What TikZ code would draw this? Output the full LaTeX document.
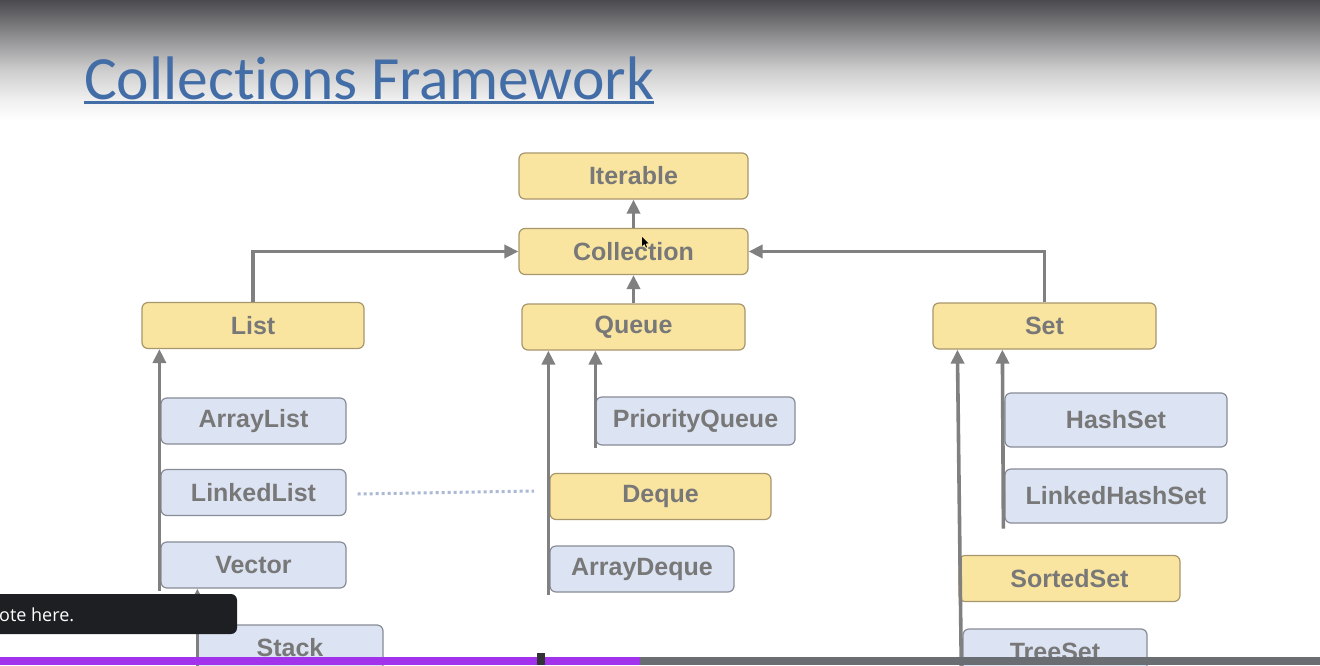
\documentclass[tikz,border=0pt]{standalone}
\usepackage{fontspec}
\setmainfont{Liberation Sans}
\newfontfamily\titlefont[Ligatures={NoCommon}]{Carlito}
\newfontfamily\uifont{Open Sans}
\usetikzlibrary{arrows.meta}
\definecolor{ifacefill}{RGB}{249,229,160}
\definecolor{ifacedraw}{RGB}{168,150,108}
\definecolor{classfill}{RGB}{220,228,243}
\definecolor{classdraw}{RGB}{135,140,150}
\definecolor{labelgray}{RGB}{120,120,120}
\definecolor{linkgray}{RGB}{128,128,128}
\definecolor{dotblue}{RGB}{172,184,212}
\definecolor{titleblue}{RGB}{66,109,166}
\definecolor{hdrA}{RGB}{74,74,79}
\definecolor{hdrB}{RGB}{140,140,142}
\definecolor{hdrC}{RGB}{205,205,206}
\definecolor{hdrD}{RGB}{240,240,240}
\definecolor{tipfill}{RGB}{30,31,34}
\definecolor{barpurple}{RGB}{162,50,235}
\definecolor{bargray}{RGB}{106,109,114}
\definecolor{barmark}{RGB}{50,50,55}
% header fade: dark at the top, easing into white
\pgfdeclareverticalshading{headerfade}{100bp}{
  color(0bp)=(white); color(28bp)=(white); color(36bp)=(hdrD);
  color(47.7bp)=(hdrC); color(61.3bp)=(hdrB); color(75bp)=(hdrA); color(100bp)=(hdrA)}
\begin{document}
\begin{tikzpicture}[x=1pt,y=-1pt,
  box/.style={rounded corners=6pt, line width=1.2pt, inner sep=0pt,
    minimum height=46pt, font=\bfseries\fontsize{25}{25}\selectfont, text=labelgray},
  iface/.style={box, fill=ifacefill, draw=ifacedraw},
  cls/.style={box, fill=classfill, draw=classdraw},
  isa/.style={draw=linkgray, line width=3.6pt, -{Triangle[length=14pt,width=13pt]}},
  assoc/.style={draw=dotblue, line width=3pt, dash pattern=on 3pt off 3pt},
  tipbox/.style={fill=tipfill, rounded corners=6pt, inner sep=0pt,
    minimum width=260pt, minimum height=40pt},
  tiplabel/.style={text=white, inner sep=0pt, anchor=west,
    font=\uifont\fontsize{18}{18}\selectfont}
]
\useasboundingbox (0,0) rectangle (1320,665);
\fill[white] (0,0) rectangle (1320,665);

% slide header band
\shade[shading=headerfade] (0,0) rectangle (1320,128);
\node[anchor=base west, inner sep=0pt, text=titleblue,
  font=\titlefont\fontsize{61.5}{61.5}\selectfont] (title) at (84,99) {Collections Framework};
\draw[titleblue, line width=3pt] (title.base west |- 0,102.5) -- (title.base east |- 0,102.5);

% interfaces
\node[iface, minimum width=229pt] (iterable) at (633.5,176) {Iterable};
\node[iface, minimum width=229pt] (collection) at (633.5,251.5) {Collection};
\node[iface, minimum width=222pt] (list) at (253,325.5) {List};
\node[iface, minimum width=223pt] (queue) at (633.5,327) {Queue};
\node[iface, minimum width=223pt] (set) at (1044.5,326) {Set};
\node[iface, minimum width=221pt] (deque) at (660.5,496.5) {Deque};
\node[iface, minimum width=221pt] (sortedset) at (1069.5,578.5) {SortedSet};

% implementations
\node[cls, minimum width=185pt] (arraylist) at (253.5,421) {ArrayList};
\node[cls, minimum width=185pt] (linkedlist) at (253.5,492.5) {LinkedList};
\node[cls, minimum width=185pt] (vector) at (253.5,565) {Vector};
\node[cls, minimum width=186pt] (stack) at (290,648) {Stack};
\node[cls, minimum width=199pt, minimum height=48pt] (priorityqueue) at (695.5,421) {PriorityQueue};
\node[cls, minimum width=184pt] (arraydeque) at (642,569) {ArrayDeque};
\node[cls, minimum width=222pt, minimum height=54pt] (hashset) at (1116,420) {HashSet};
\node[cls, minimum width=222pt, minimum height=54pt] (linkedhashset) at (1116,496) {LinkedHashSet};
\node[cls, minimum width=184pt] (treeset) at (1055,652) {TreeSet};

% inheritance links
\draw[isa] (collection.north) -- (iterable.south);
\draw[isa] (queue.north) -- (collection.south);
\draw[isa] (list.north) |- (collection.west);
\draw[isa] (set.north) |- (collection.east);

\draw[isa] ([xshift=-1pt,yshift=-2pt]vector.south west)
  -- ([xshift=-1pt]vector.south west |- list.south);
\draw[isa] ([xshift=1pt]stack.south west) -- ([xshift=1pt]stack.south west |- vector.south);

\draw[isa] ([xshift=-1pt,yshift=-2pt]arraydeque.south west)
  -- ([xshift=-1pt]arraydeque.south west |- queue.south);
\draw[isa] ([yshift=-2pt]priorityqueue.south west) -- (priorityqueue.south west |- queue.south);

\draw[isa] ([xshift=-1pt]treeset.south west) -- ([xshift=-5pt]treeset.south west |- set.south);
\draw[isa] ([xshift=-1pt,yshift=-5pt]linkedhashset.south west)
  -- ([xshift=-2pt]linkedhashset.south west |- set.south);

% LinkedList / Deque association
\coordinate (assocend) at (534,491);
\draw[assoc] ([xshift=11pt,yshift=-1.5pt]linkedlist.east) -- (assocend);

% pointer
\fill[black] (642,237) -- (642,246) -- (644.5,244) -- (646,247.5) -- (647,247) -- (645.6,243.6) -- (648.5,243.4) -- cycle;

% hover tooltip
\node[tipbox] (tip) at (107,614) {};
\node[tiplabel] (tiptext) at (-1,615) {ote here.};

% progress bar
\fill[barpurple] (0,657) rectangle (640,665);
\fill[bargray] (640,657) rectangle (1320,665);
\fill[barmark] (537,653) rectangle (545,665);
\end{tikzpicture}
\end{document}
